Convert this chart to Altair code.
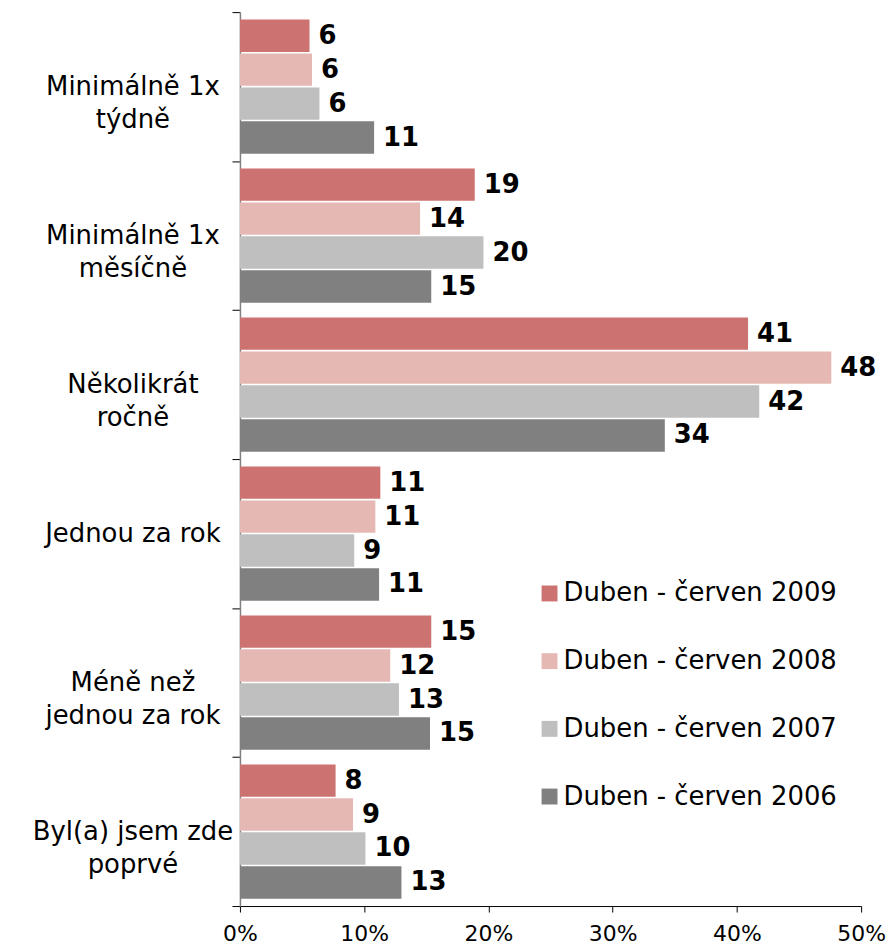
import altair as alt
import pandas as pd

categories = [
    "Minimálně 1x\ntýdně",
    "Minimálně 1x\nměsíčně",
    "Několikrát\nročně",
    "Jednou za rok",
    "Méně než\njednou za rok",
    "Byl(a) jsem zde\npoprvé",
]
series = [
    "Duben - červen 2009",
    "Duben - červen 2008",
    "Duben - červen 2007",
    "Duben - červen 2006",
]
colors = ["#CC7371", "#E6B8B4", "#BFBFBF", "#808080"]

v2009 = [5.6, 18.9, 40.9, 11.3, 15.4, 7.7]
v2008 = [5.8, 14.5, 47.6, 10.9, 12.1, 9.1]
v2007 = [6.4, 19.6, 41.8, 9.2, 12.8, 10.1]
v2006 = [10.8, 15.4, 34.2, 11.2, 15.3, 13.0]

l2009 = [6, 19, 41, 11, 15, 8]
l2008 = [6, 14, 48, 11, 12, 9]
l2007 = [6, 20, 42, 9, 13, 10]
l2006 = [11, 15, 34, 11, 15, 13]

rows = []
for s, vals, labs in zip(series, [v2009, v2008, v2007, v2006], [l2009, l2008, l2007, l2006]):
    for c, v, l in zip(categories, vals, labs):
        rows.append({"cat": c, "series": s, "value": v, "label": str(l)})
df = pd.DataFrame(rows)

FONT = "DejaVu Sans"

y_enc = alt.Y(
    "cat:N",
    sort=categories,
    title=None,
    scale=alt.Scale(paddingInner=0, paddingOuter=0),
    axis=alt.Axis(
        labelExpr="split(datum.label, '\\n')",
        labelFont=FONT,
        labelFontSize=26,
        labelColor="black",
        labelAlign="center",
        labelBaseline="middle",
        labelLineHeight=33,
        labelPadding=100,
        labelLimit=400,
        tickBand="extent",
        tickSize=8,
        tickColor="black",
        domainColor="#808080",
        domainWidth=1.5,
    ),
)
yoff_enc = alt.YOffset(
    "series:N",
    sort=series,
    scale=alt.Scale(paddingInner=0.045, paddingOuter=0.216),
)
x_enc = alt.X(
    "value:Q",
    title=None,
    scale=alt.Scale(domain=[0, 50], nice=False),
    axis=alt.Axis(
        values=[0, 10, 20, 30, 40, 50],
        labelExpr="datum.value + '%'",
        labelFont=FONT,
        labelFontSize=22,
        labelColor="black",
        labelPadding=12,
        labelFlush=False,
        tickSize=6,
        tickColor="black",
        domainColor="black",
        grid=False,
    ),
)

bars = alt.Chart(df).mark_bar().encode(
    x=x_enc,
    y=y_enc,
    yOffset=yoff_enc,
    color=alt.Color(
        "series:N",
        sort=series,
        scale=alt.Scale(domain=series, range=colors),
        legend=alt.Legend(
            title=None,
            orient="none",
            legendX=298,
            legendY=571,
            symbolType="square",
            symbolSize=256,
            symbolStrokeWidth=0,
            labelFont=FONT,
            labelFontSize=26,
            labelColor="black",
            labelOffset=1,
            rowPadding=42,
            padding=0,
            labelLimit=400,
        ),
    ),
)

texts = alt.Chart(df).mark_text(
    align="left", baseline="middle", dx=9, font=FONT, fontSize=26, fontWeight="bold", color="black"
).encode(
    x="value:Q",
    y=alt.Y("cat:N", sort=categories),
    yOffset=alt.YOffset("series:N", sort=series),
    text="label:N",
)

chart = (
    alt.layer(bars, texts)
    .properties(
        width=624,
        height=898,
        autosize=alt.AutoSizeParams(type="none"),
        padding={"left": 233, "top": 2, "right": 25, "bottom": 38},
    )
    .configure_view(stroke=None)
)

chart.save("out.html", embed_options={"renderer": "svg", "actions": False})
